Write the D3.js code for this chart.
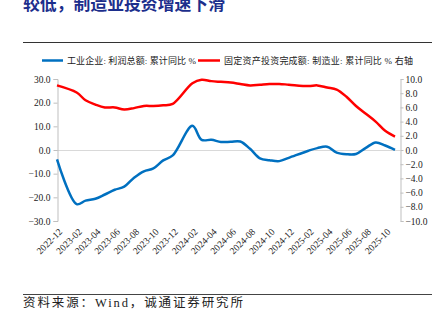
<!DOCTYPE html>
<html>
<head>
<meta charset="utf-8">
<script src="https://cdn.jsdelivr.net/npm/d3@7/dist/d3.min.js"></script>
<style>
  html, body { margin: 0; padding: 0; background: #ffffff; }
  svg { display: block; }
</style>
</head>
<body>
<svg id="chart" width="447" height="335"></svg>
<script>
// ---- data ----
const months = [
  "2022-12",
  "2023-02","2023-03","2023-04","2023-05","2023-06","2023-07","2023-08","2023-09","2023-10","2023-11","2023-12",
  "2024-02","2024-03","2024-04","2024-05","2024-06","2024-07","2024-08","2024-09","2024-10","2024-11","2024-12",
  "2025-02","2025-03","2025-04","2025-05","2025-06","2025-07","2025-08","2025-09","2025-10","2025-11"
];
const profitYoY = [
  -4.0,
  -22.9,-21.4,-20.6,-18.8,-16.8,-15.5,-11.7,-9.0,-7.8,-4.4,-2.3,
  10.2,4.3,4.3,3.4,3.5,3.6,0.5,-3.5,-4.3,-4.7,-3.3,
  -0.3,0.8,1.4,-1.1,-1.8,-1.7,0.9,3.2,1.9,0.1
];
const mfgFaiYoY = [
  9.1,
  8.1,7.0,6.4,6.0,6.0,5.7,5.9,6.2,6.2,6.3,6.5,
  9.4,9.9,9.7,9.6,9.5,9.3,9.1,9.2,9.3,9.3,9.2,
  9.0,9.1,8.8,8.5,7.5,6.2,5.1,4.0,2.7,1.9
];
const xTickLabels = [
  "2022-12","2023-02","2023-04","2023-06","2023-08","2023-10","2023-12",
  "2024-02","2024-04","2024-06","2024-08","2024-10","2024-12",
  "2025-02","2025-04","2025-06","2025-08","2025-10"
];
const leftTicks = [30,20,10,0,-10,-20,-30];
const rightTicks = [10,8,6,4,2,0,-2,-4,-6,-8,-10];
const titleText = "较低，制造业投资增速下滑";
const legendNames = ["工业企业: 利润总额: 累计同比 %", "固定资产投资完成额: 制造业: 累计同比 % 右轴"];
const sourceText = "资料来源：Wind，诚通证券研究所";

// ---- setup ----
const svg = d3.select("#chart");
const parse = d3.timeParse("%Y-%m");
const serif = "'Liberation Serif','Noto Sans CJK SC',serif";
const BLUE = "#0070C0", RED = "#FF0000";

const x = d3.scaleTime()
  .domain([parse("2022-12"), parse("2025-11")])
  .range([57, 395]);
const yL = d3.scaleLinear().domain([-30, 30]).range([221, 79]);
const yR = d3.scaleLinear().domain([-10, 10]).range([221, 79]);

// title (partially cut off at top)
svg.append("text")
  .attr("x", 23).attr("y", 9.5)
  .attr("font-family", "'Noto Sans CJK SC',sans-serif")
  .attr("font-weight", "bold")
  .attr("font-size", 17)
  .attr("fill", "#1C2E8C")
  .attr("textLength", 202).attr("lengthAdjust", "spacingAndGlyphs")
  .text(titleText);

// rules
svg.append("line").attr("x1", 23).attr("x2", 432).attr("y1", 42.5).attr("y2", 42.5)
  .attr("stroke", "#333").attr("stroke-width", 1);
svg.append("line").attr("x1", 23).attr("x2", 432).attr("y1", 294.5).attr("y2", 294.5)
  .attr("stroke", "#444").attr("stroke-width", 1);

// legend
const lg = svg.append("g");
lg.append("line").attr("x1", 42).attr("x2", 63).attr("y1", 60.5).attr("y2", 60.5)
  .attr("stroke", BLUE).attr("stroke-width", 2.5);
lg.append("text").attr("x", 67).attr("y", 64)
  .attr("font-family", serif).attr("font-size", 9).attr("fill", "#222")
  .attr("textLength", 129).attr("lengthAdjust", "spacing")
  .text(legendNames[0]);
lg.append("line").attr("x1", 198).attr("x2", 220).attr("y1", 60.5).attr("y2", 60.5)
  .attr("stroke", RED).attr("stroke-width", 2.5);
lg.append("text").attr("x", 224).attr("y", 64)
  .attr("font-family", serif).attr("font-size", 9).attr("fill", "#222")
  .attr("textLength", 189).attr("lengthAdjust", "spacing")
  .text(legendNames[1]);

// zero gridline
svg.append("line")
  .attr("x1", 57).attr("x2", 400)
  .attr("y1", Math.round(yL(0)) + 0.5).attr("y2", Math.round(yL(0)) + 0.5)
  .attr("stroke", "#d9d9d9").attr("stroke-width", 1);

// left axis
const leftAxis = d3.axisLeft(yL).tickValues(leftTicks).tickSize(4).tickPadding(3)
  .tickFormat(d3.format(".1f"));
const gL = svg.append("g").attr("transform", "translate(57.5,0)").call(leftAxis);
gL.select(".domain").attr("stroke", "#bfbfbf");
gL.selectAll(".tick line").attr("stroke", "#bfbfbf");
gL.selectAll(".tick text").attr("font-family", serif).attr("font-size", 9.5).attr("fill", "#222");

// right axis
const rightAxis = d3.axisRight(yR).tickValues(rightTicks).tickSize(3).tickPadding(2)
  .tickFormat(d3.format(".1f"));
const gR = svg.append("g").attr("transform", "translate(400.5,0)").call(rightAxis);
gR.select(".domain").attr("stroke", "#bfbfbf");
gR.selectAll(".tick line").attr("stroke", "#bfbfbf");
gR.selectAll(".tick text").attr("font-family", serif).attr("font-size", 9.5).attr("fill", "#222");

// x labels (rotated, no axis line)
const xAxis = d3.axisBottom(x)
  .tickValues(xTickLabels.map(parse))
  .tickSize(0).tickPadding(0)
  .tickFormat(d3.timeFormat("%Y-%m"));
const gX = svg.append("g").attr("transform", "translate(0,228)").call(xAxis);
gX.select(".domain").remove();
gX.selectAll(".tick text")
  .attr("font-family", serif).attr("font-size", 9.5).attr("fill", "#222")
  .attr("text-anchor", "end")
  .attr("dy", "0.35em")
  .attr("transform", "translate(3,2) rotate(-45)");

// series
const rows = months.map((m, i) => ({ d: parse(m), p: profitYoY[i], f: mfgFaiYoY[i] }));
const lineP = d3.line().x(r => x(r.d)).y(r => yL(r.p)).curve(d3.curveCatmullRom.alpha(0.5));
const lineF = d3.line().x(r => x(r.d)).y(r => yR(r.f)).curve(d3.curveCatmullRom.alpha(0.5));
svg.append("path").datum(rows).attr("d", lineF)
  .attr("fill", "none").attr("stroke", RED).attr("stroke-width", 2.5).attr("stroke-linejoin", "round");
svg.append("path").datum(rows).attr("d", lineP)
  .attr("fill", "none").attr("stroke", BLUE).attr("stroke-width", 2.5).attr("stroke-linejoin", "round");

// source
svg.append("text").attr("x", 23).attr("y", 306.5)
  .attr("font-family", serif).attr("font-size", 12.5).attr("fill", "#222")
  .attr("textLength", 220).attr("lengthAdjust", "spacing")
  .text(sourceText);
</script>
</body>
</html>
